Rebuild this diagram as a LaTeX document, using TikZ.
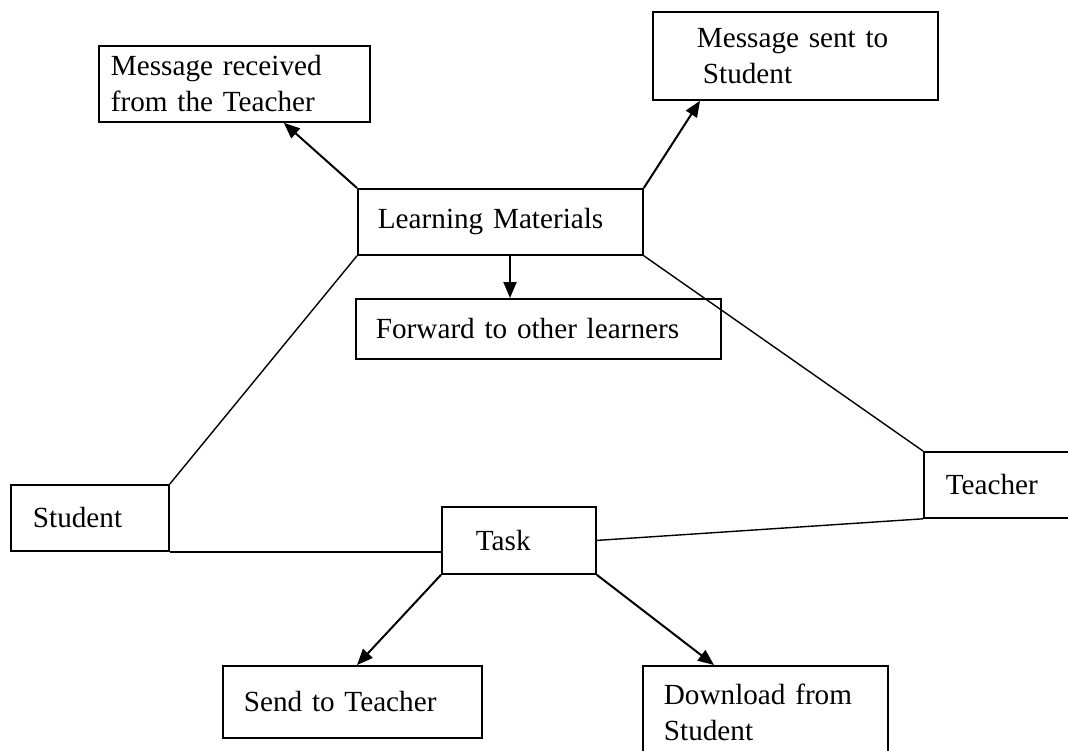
\documentclass[tikz,border=0pt]{standalone}
\usepackage{fontspec}
\setmainfont{Liberation Serif}
\usetikzlibrary{arrows.meta,positioning}

\tikzset{
  box/.style={draw, line width=0.9pt, anchor=north west, align=left, inner ysep=0pt,
    font=\fontsize{14.6pt}{18pt}\selectfont},
  link/.style={line width=0.7pt},
  flow/.style={line width=1pt, -{Triangle[length=8pt,width=6.5pt]}}
}

\begin{document}
\begin{tikzpicture}[x=0.5pt,y=-0.5pt]
\clip (0,0) rectangle (1068,750);

\node[box, text width=123.5pt, inner xsep=6pt, minimum height=38pt] (recv) at (98,45) {Message received\\from the Teacher};
\node[box, text width=98.5pt, inner xsep=22pt, minimum height=44pt] (sent) at (652,11) {Message sent to\\\hspace*{3pt}Student};
\node[box, text width=122.5pt, inner xsep=10pt, minimum height=33pt] (lm) at (357,188) {Learning Materials};
\node[box, text width=162.5pt, inner xsep=10pt, minimum height=30pt] (fwd) at (355,298) {Forward to other learners};
\node[box, text width=57pt, inner xsep=11pt, minimum height=33pt] (student) at (10,484) {Student};
\node[box, text width=63pt, inner xsep=11pt, minimum height=33pt] (teacher) at (923,451) {Teacher};
\node[box, text width=43pt, inner xsep=17pt, minimum height=33.5pt] (task) at (441,506) {Task};
\node[box, text width=108.5pt, inner xsep=10.5pt, minimum height=36pt] (send) at (222,665) {Send to Teacher};
\node[box, text width=101.5pt, inner xsep=10.5pt, minimum height=46pt] (down) at (642,665) {Download from\\Student};

\coordinate (lmdown) at ([xshift=76.5pt]lm.south west);

\draw[flow] (lm.north west) -- ([xshift=-43.5pt]recv.south east);
\draw[flow] (lm.north east) -- ([xshift=24pt]sent.south west);
\draw[flow] (lmdown) -- (lmdown |- fwd.north);
\draw[link] (lm.south west) -- (student.north east);
\draw[link] (lm.south east) -- (teacher.north west);
\draw[link] (student.south east) -- (task.west |- student.south east);
\draw[link] (task.east) -- (teacher.south west);
\draw[flow] (task.south west) -- ([xshift=67.5pt]send.north west);
\draw[flow] (task.south east) -- ([xshift=36pt]down.north west);
\end{tikzpicture}
\end{document}
